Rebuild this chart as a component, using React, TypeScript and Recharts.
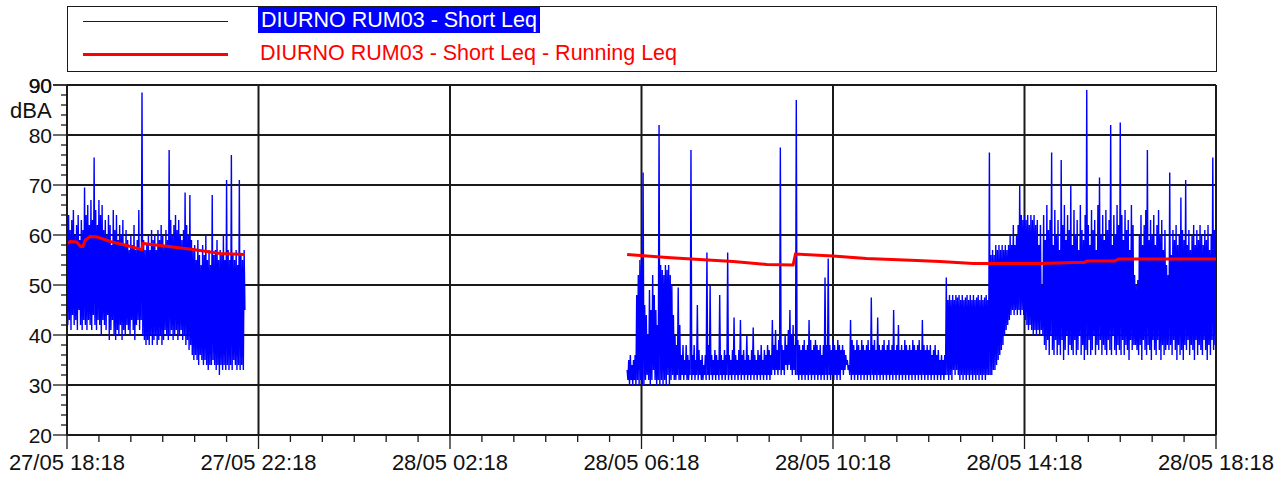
import { LineChart, Line, XAxis, YAxis, CartesianGrid } from "recharts";

// minutes after 27/05 18:18, one Short Leq sample per minute
const SAMPLE_STEP = 1;
const seg1Start = 0;
const seg2Start = 702;

// DIURNO RUM03 - Short Leq (dBA), evening block (27/05 18:18 - 22:01)
const shortLeqEvening = [
    58, 42, 64, 43, 61, 41, 63, 44, 65, 42, 60, 43, 62, 41, 64, 45, 59, 42, 63, 41,
    61, 43, 69.5, 42, 64, 41, 66, 43, 62, 42, 67, 41, 63, 44, 75.5, 42, 65, 41, 62, 43,
    67, 42, 64, 40, 66, 43, 61, 42, 63, 41, 60, 44, 64, 39, 62, 41, 58, 43, 65, 40,
    61, 39, 64, 41, 59, 40, 62, 42, 60, 39, 63, 41, 58, 40, 61, 42, 59, 41, 57, 40,
    60, 43, 58, 41, 62, 39, 57, 42, 59, 43, 65, 41, 57, 43, 88.5, 40, 59, 39, 57, 38,
    58, 39, 60, 38, 57, 40, 61, 38, 59, 39, 60, 40, 57, 38, 61, 39, 59, 40, 62, 38,
    60, 39, 58, 41, 61, 40, 59, 39, 77, 40, 63, 41, 60, 39, 62, 40, 64, 41, 61, 39,
    63, 40, 60, 41, 59, 39, 61, 40, 68.5, 38, 62, 39, 60, 37, 68, 38, 59, 36, 57, 35,
    58, 36, 55, 35, 59, 34, 56, 36, 54, 35, 58, 34, 56, 35, 60, 34, 55, 33, 57, 34,
    54, 34, 68, 35, 56, 34, 57, 33, 59, 34, 55, 32, 57, 34, 56, 33, 60, 34, 55, 33,
    71, 34, 57, 33, 55, 34, 76, 33, 56, 35, 55, 34, 57, 33, 54, 34, 71, 33, 56, 34,
    55, 33, 57, 45
];

// DIURNO RUM03 - Short Leq (dBA), day block (28/05 06:00 - 18:18)
const shortLeqDay = [
    33, 31, 35, 30, 36, 31, 34, 30, 35, 31, 36, 30, 48, 31, 52, 30, 55, 31, 54, 30,
    72.5, 30, 46, 31, 44, 32, 40, 31, 49, 30, 45, 31, 52, 33, 48, 31, 45, 30, 42, 31,
    82, 30, 54, 31, 53, 30, 52, 31, 54, 30, 53, 32, 54, 30, 52, 31, 50, 32, 44, 31,
    40, 31, 38, 32, 49.5, 31, 42, 31, 36, 32, 38, 31, 35, 32, 38, 31, 36, 31, 35, 32,
    77, 31, 36, 32, 38, 31, 35, 32, 46, 31, 37, 32, 35, 31, 36, 31, 34, 32, 36, 31,
    56.5, 32, 38, 31, 50, 32, 36, 31, 35, 32, 37, 31, 36, 32, 35, 31, 48, 32, 36, 31,
    35, 32, 37, 31, 36, 32, 56.5, 31, 36, 32, 35, 31, 37, 32, 43.5, 31, 36, 32, 35, 31,
    37, 32, 43, 31, 36, 32, 37, 31, 35, 32, 40, 31, 36, 32, 35, 31, 37, 32, 41.5, 31,
    36, 32, 35, 31, 37, 32, 36, 31, 38, 32, 35, 31, 37, 32, 36, 31, 38, 32, 37, 31,
    36, 32, 43, 33, 38, 32, 41, 33, 37, 32, 39, 33, 77.5, 32, 38, 33, 37, 32, 40, 34,
    38, 33, 41, 34, 45, 33, 40, 32, 42, 33, 38, 32, 87, 32, 39, 31, 38, 32, 37, 31,
    38, 32, 39, 31, 37, 32, 38, 31, 43, 32, 39, 31, 37, 32, 38, 31, 39, 32, 38, 31,
    37, 32, 38, 31, 36, 32, 38, 31, 51.5, 32, 38, 31, 55.3, 32, 38, 31, 37, 32, 39, 31,
    38, 32, 37, 31, 39, 32, 38, 31, 37, 33, 38, 32, 37, 33, 36, 34, 35, 33, 34, 32,
    43, 31, 39, 32, 38, 31, 37, 32, 39, 31, 38, 32, 37, 31, 39, 32, 38, 31, 37, 32,
    38, 31, 39, 32, 37, 31, 47.5, 32, 38, 31, 39, 32, 37, 31, 43.5, 32, 38, 31, 37, 32,
    38, 31, 39, 32, 37, 31, 38, 32, 39, 31, 37, 32, 38, 31, 45, 32, 37, 31, 38, 32,
    42, 31, 37, 32, 38, 31, 37, 32, 39, 31, 38, 32, 37, 31, 38, 32, 37, 31, 39, 32,
    38, 31, 37, 32, 38, 31, 39, 32, 37, 31, 43, 32, 38, 31, 37, 32, 38, 31, 37, 32,
    38, 31, 36, 32, 37, 31, 38, 32, 36, 31, 37, 32, 35, 31, 36, 32, 35, 31, 36, 32,
    51.5, 32, 47, 31, 48, 32, 47, 31, 48, 33, 47, 32, 48, 33, 47.5, 32, 48, 31, 47, 32,
    48, 31, 47, 32, 47.5, 31, 48, 32, 47, 31, 48, 32, 47, 31, 48, 32, 47, 31, 47.5, 32,
    48, 31, 47, 32, 48, 31, 47, 32, 47.5, 31, 48, 32, 47, 32, 76.5, 32, 56, 32, 57, 33,
    56, 33, 58, 34, 57, 35, 58, 36, 57, 37, 58, 38, 57, 40, 58, 41, 57, 42, 58, 43,
    60, 44, 58, 45, 62, 44, 58, 45, 60, 44, 62, 45, 70, 44, 64, 45, 63, 44, 64, 43,
    63, 42, 64, 41, 62, 42, 64, 41, 63, 40, 64, 41, 62, 40, 63, 41, 58, 40, 62, 41,
    50, 40, 64, 38, 59, 37, 66, 39, 61, 36, 63, 40, 76.5, 37, 58, 36, 65, 39, 60, 36,
    63, 38, 57, 36, 75, 39, 62, 35, 66, 37, 59, 40, 64, 36, 61, 38, 70, 37, 58, 36,
    65, 39, 60, 36, 63, 37, 57, 40, 66, 36, 61, 38, 59, 35, 64, 37, 89, 36, 62, 39,
    58, 36, 65, 37, 61, 40, 63, 36, 57, 38, 66, 37, 71.5, 39, 60, 36, 64, 38, 59, 37,
    65, 36, 61, 39, 63, 37, 82, 36, 58, 40, 64, 37, 60, 36, 66, 38, 62, 37, 82.5, 36,
    64, 39, 59, 36, 65, 38, 61, 37, 63, 35, 57, 39, 66, 37, 62, 38, 52, 38, 50, 37,
    51, 36, 60, 38, 64, 35, 58, 39, 62, 37, 65, 36, 77, 38, 59, 37, 63, 35, 60, 39,
    64, 37, 58, 36, 62, 39, 65, 37, 60, 35, 63, 38, 57, 36, 61, 37, 54, 38, 52, 37,
    72.5, 38, 56, 36, 61, 39, 59, 37, 62, 35, 58, 38, 60, 36, 67.5, 37, 61, 35, 59, 38,
    71, 37, 58, 39, 61, 36, 57, 38, 60, 37, 62, 35, 58, 39, 61, 36, 59, 38, 62, 37,
    60, 36, 58, 39, 61, 37, 59, 35, 62, 38, 57, 36, 60, 39, 75.5, 37, 61, 38, 55
];

// Running Leq (minutes, dBA)
const runningTimesEvening = [0, 4, 12, 17, 20, 23, 29, 38, 54, 75, 91, 94, 95, 117, 158, 192, 223];
const runningLeqEvening = [58.3, 58.7, 58.6, 57.7, 57.7, 59.0, 59.7, 59.6, 58.7, 57.9, 57.2, 57.1, 58.3, 57.9, 57.1, 56.3, 56.1];
const runningTimesDay = [702, 752, 793, 835, 877, 910, 913, 960, 1002, 1065, 1094, 1136, 1220, 1263, 1275, 1278, 1313, 1318, 1440];
const runningLeqDay = [56.1, 55.5, 55.1, 54.7, 54.1, 54.0, 56.2, 55.8, 55.3, 54.9, 54.7, 54.3, 54.3, 54.5, 54.5, 54.8, 54.8, 55.2, 55.2];

const xMajorTicks = [0, 240, 480, 720, 960, 1200, 1440];
const xTickLabels = ["27/05 18:18", "27/05 22:18", "28/05 02:18", "28/05 06:18", "28/05 10:18", "28/05 14:18", "28/05 18:18"];
const yMajorTicks = [20, 30, 40, 50, 60, 70, 80, 90];

const xMinorTicks = Array.from({ length: 37 }, (_, i) => i * 40);
const yMinorTicks = Array.from({ length: 36 }, (_, i) => 20 + i * 2);

const shortLeqData = [
    ...shortLeqEvening.map((v, i) => ({ t: seg1Start + i * SAMPLE_STEP, v })),
    { t: 460, v: null },
    ...shortLeqDay.map((v, i) => ({ t: seg2Start + i * SAMPLE_STEP, v }))
];

const runningData = [
    ...runningTimesEvening.map((t, i) => ({ t, v: runningLeqEvening[i] })),
    { t: 460, v: null },
    ...runningTimesDay.map((t, i) => ({ t, v: runningLeqDay[i] }))
];

const FONT = "'Liberation Sans', Arial, sans-serif";
const INK = "#1a1a1a";

function XTick({ x, y, payload }: any) {
    const idx = xMajorTicks.indexOf(payload.value);
    const major = idx >= 0;
    return (
        <g>
            <line x1={x} x2={x} y1={y} y2={y + (major ? 14 : 7)} stroke={INK} strokeWidth={1.3} />
            {major && (
                <text x={x} y={y + 35} textAnchor="middle" fontSize={22} fontFamily={FONT} fill="#111">
                    {xTickLabels[idx]}
                </text>
            )}
        </g>
    );
}

function YTick({ x, y, payload }: any) {
    const major = yMajorTicks.includes(payload.value);
    return (
        <g>
            <line x1={x - (major ? 14 : 6)} x2={x} y1={y} y2={y} stroke={INK} strokeWidth={1.3} />
            {major && (
                <text x={x - 15} y={y} dy="0.36em" textAnchor="end" fontSize={21} fontFamily={FONT} fill="#111">
                    {payload.value}
                </text>
            )}
        </g>
    );
}

export default function App() {
    return (
        <div style={{ position: "absolute", left: 0, top: 0, width: 1285, height: 477, background: "#fff", fontFamily: FONT }}>

            {/* legend box */}
            <div style={{ position: "absolute", left: 67, top: 6, width: 1150, height: 66, border: `1px solid ${INK}`, boxSizing: "border-box" }} />
            <div style={{ position: "absolute", left: 83, top: 21, width: 145, height: 1, background: "#0000ff" }} />
            <div style={{ position: "absolute", left: 83, top: 53, width: 145, height: 3, background: "#ff0000" }} />
            <div style={{ position: "absolute", left: 258, top: 7, height: 26, lineHeight: "26px", padding: "0 3px", background: "#0000ff", color: "#fff", fontSize: 21.5, whiteSpace: "nowrap" }}>
                DIURNO RUM03 - Short Leq
            </div>
            <div style={{ position: "absolute", left: 260, top: 40, height: 26, lineHeight: "26px", color: "#ff0000", fontSize: 21.5, whiteSpace: "nowrap" }}>
                DIURNO RUM03 - Short Leq - Running Leq
            </div>

            <div style={{ position: "absolute", left: 10, top: 98, fontSize: 22, lineHeight: "26px", color: "#111" }}>dBA</div>

            <LineChart width={1285} height={477} margin={{ top: 85, right: 69, bottom: 41, left: 66 }}>
                <CartesianGrid
                    stroke={INK}
                    strokeWidth={2}
                    horizontalValues={yMajorTicks}
                    verticalValues={xMajorTicks}
                />
                <XAxis
                    type="number"
                    dataKey="t"
                    domain={[0, 1440]}
                    ticks={xMinorTicks}
                    interval={0}
                    height={1}
                    tickSize={0}
                    tickMargin={0}
                    tickLine={false}
                    axisLine={{ stroke: INK, strokeWidth: 2 }}
                    tick={<XTick />}
                    allowDataOverflow
                />
                <YAxis
                    type="number"
                    domain={[20, 90]}
                    ticks={yMinorTicks.concat([90])}
                    interval={0}
                    width={1}
                    tickSize={0}
                    tickMargin={0}
                    tickLine={false}
                    axisLine={{ stroke: INK, strokeWidth: 2 }}
                    tick={<YTick />}
                    allowDataOverflow
                />
                <Line
                    data={shortLeqData}
                    dataKey="v"
                    type="linear"
                    stroke="#0000ff"
                    strokeWidth={1.4}
                    dot={false}
                    isAnimationActive={false}
                />
                <Line
                    data={runningData}
                    dataKey="v"
                    type="linear"
                    stroke="#ff0000"
                    strokeWidth={3}
                    dot={false}
                    isAnimationActive={false}
                />
            </LineChart>
        </div>
    );
}
